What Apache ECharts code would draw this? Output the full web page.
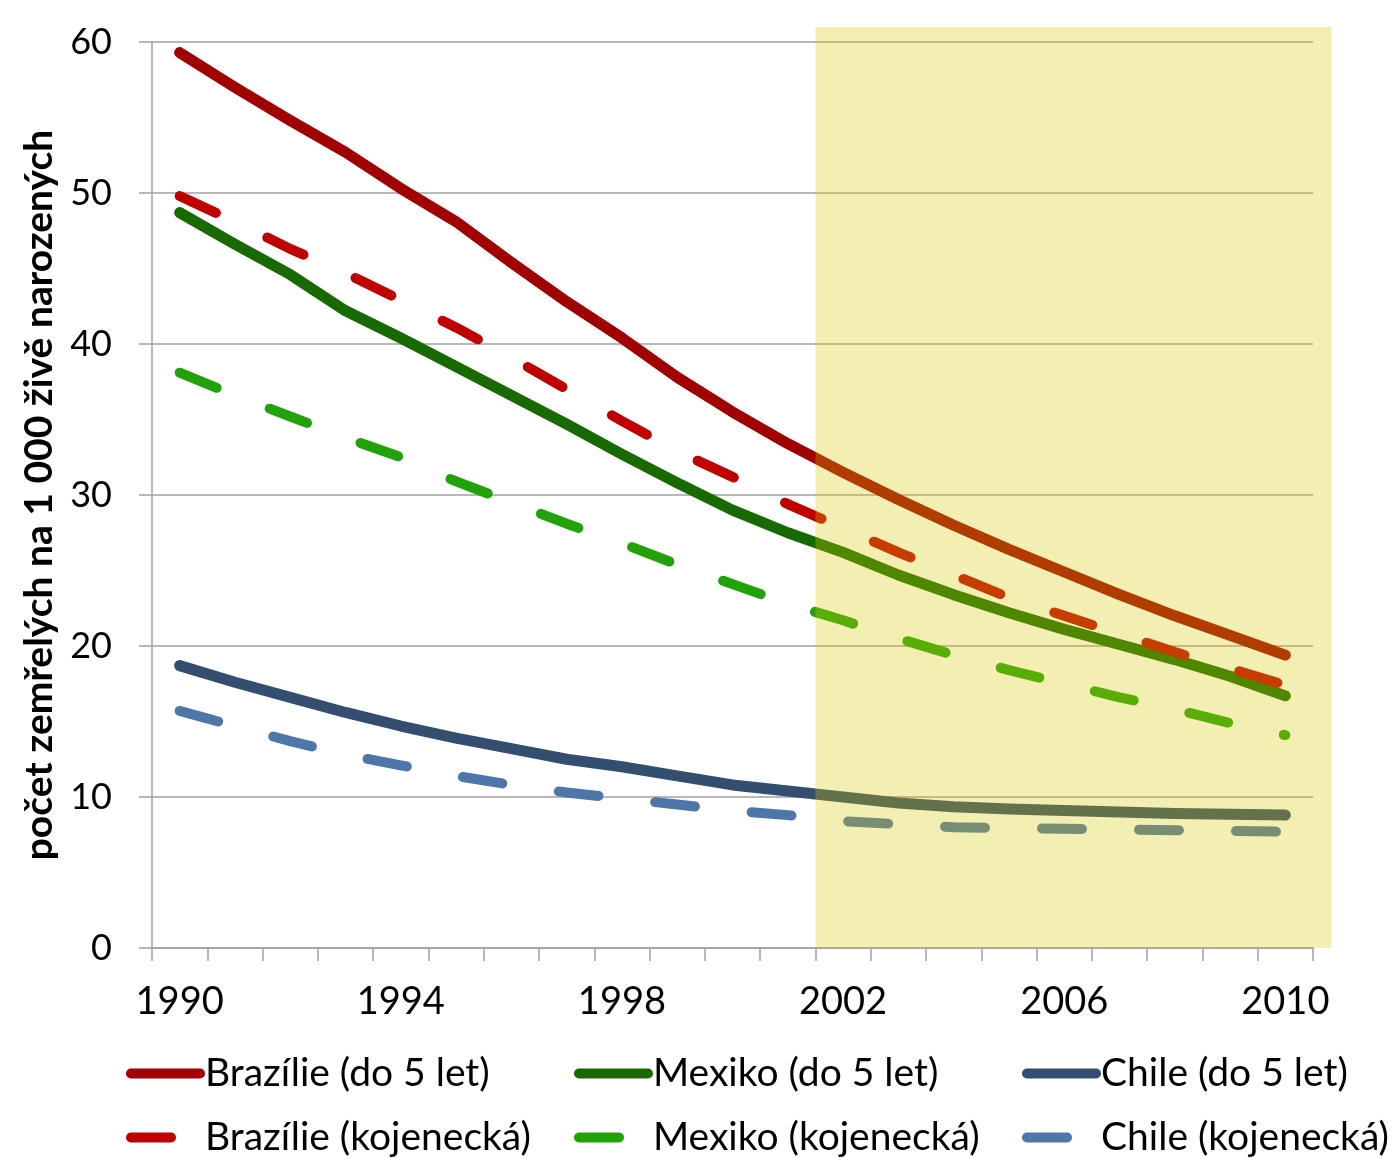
<!DOCTYPE html>
<html>
<head>
<meta charset="utf-8">
<script src="https://cdn.jsdelivr.net/npm/echarts@6/dist/echarts.min.js"></script>
<style>
html,body{margin:0;padding:0;background:#fff;}
#chart{width:1394px;height:1158px;}
</style>
</head>
<body>
<div id="chart"></div>
<script>
const years = ['1990','1991','1992','1993','1994','1995','1996','1997','1998','1999','2000','2001','2002','2003','2004','2005','2006','2007','2008','2009','2010'];
const brazil5   = [59.3, 57.0, 54.8, 52.7, 50.3, 48.1, 45.4, 42.8, 40.4, 37.8, 35.5, 33.4, 31.5, 29.7, 28.0, 26.4, 24.9, 23.4, 22.0, 20.7, 19.4];
const brazilInf = [49.8, 48.1, 46.3, 44.7, 42.9, 41.1, 39.1, 37.0, 34.9, 32.9, 31.2, 29.4, 27.8, 26.2, 24.7, 23.2, 22.0, 20.8, 19.6, 18.5, 17.4];
const mexico5   = [48.7, 46.6, 44.6, 42.2, 40.4, 38.5, 36.6, 34.7, 32.7, 30.8, 29.0, 27.5, 26.2, 24.7, 23.4, 22.2, 21.1, 20.1, 19.1, 18.0, 16.7];
const mexicoInf = [38.1, 36.6, 35.2, 33.8, 32.5, 30.9, 29.5, 28.1, 26.8, 25.4, 24.1, 22.8, 21.7, 20.5, 19.4, 18.4, 17.5, 16.6, 15.8, 14.9, 14.1];
const chile5    = [18.7, 17.6, 16.6, 15.6, 14.7, 13.9, 13.2, 12.5, 12.0, 11.4, 10.8, 10.4, 10.0, 9.6, 9.35, 9.2, 9.1, 9.0, 8.9, 8.85, 8.8];
const chileInf  = [15.7, 14.7, 13.7, 12.8, 12.1, 11.4, 10.8, 10.3, 9.9, 9.5, 9.1, 8.8, 8.4, 8.2, 8.0, 7.95, 7.9, 7.85, 7.8, 7.75, 7.7];
const names = ['Brazílie (do 5 let)','Brazílie (kojenecká)','Mexiko (do 5 let)','Mexiko (kojenecká)','Chile (do 5 let)','Chile (kojenecká)'];
const yTitle = 'počet zemřelých na 1 000 živě narozených';
const shadeFrom = '2002';
const shadeTo = '2010';
const shadeTopValue = 61;

const FONT = 'Lato, "Open Sans", sans-serif';
const dash = [40, 57];

function lineSeries(name, data, color, dashed){
  return {
    type: 'line', name: name, data: data,
    symbol: 'none', smooth: false, z: 3,
    itemStyle: {color: 'rgba(0,0,0,0)'},
    lineStyle: {color: color, width: dashed ? 10 : 11, type: dashed ? dash : 'solid', cap: 'round', join: 'round'}
  };
}

const legendCommon = {
  orient: 'vertical', itemWidth: 69, itemHeight: 40, itemGap: 25,
  textStyle: {fontFamily: FONT, fontSize: 39, color: '#000'},
  itemStyle: {opacity: 0},
  lineStyle: {width: 10, cap: 'round'},
  selectedMode: false, padding: 0, top: 1054
};

const chart = echarts.init(document.getElementById('chart'), null, {renderer: 'canvas'});
const option = {
  animation: false,
  backgroundColor: '#fff',
  grid: {left: 152, right: 81, top: 42, bottom: 210, containLabel: false},
  xAxis: {
    type: 'category', data: years, boundaryGap: true,
    axisLine: {show: true, lineStyle: {color: '#A0A0A0', width: 1.5}},
    axisTick: {show: true, interval: 0, length: 13, lineStyle: {color: '#A0A0A0', width: 1.5}},
    axisLabel: {interval: 3, margin: 35, fontFamily: FONT, fontSize: 38, color: '#000'},
    splitLine: {show: false}
  },
  yAxis: {
    type: 'value', min: 0, max: 60, interval: 10,
    name: yTitle, nameLocation: 'middle', nameGap: 92, nameRotate: 90,
    nameTextStyle: {fontFamily: FONT, fontSize: 39, fontWeight: 'bold', color: '#000'},
    axisLine: {show: true, lineStyle: {color: '#A0A0A0', width: 1.5}},
    axisTick: {show: true, length: 13, lineStyle: {color: '#A0A0A0', width: 1.5}},
    axisLabel: {margin: 40, fontFamily: FONT, fontSize: 36, color: '#000'},
    splitLine: {show: true, lineStyle: {color: '#A0A0A0', width: 1.5}}
  },
  legend: [
    Object.assign({}, legendCommon, {left: 126, data: [names[0], names[1]]}),
    Object.assign({}, legendCommon, {left: 574, data: [names[2], names[3]]}),
    Object.assign({}, legendCommon, {left: 1022, data: [names[4], names[5]]})
  ],
  series: [
    lineSeries(names[0], brazil5, '#A00000', false),
    lineSeries(names[2], mexico5, '#186A00', false),
    lineSeries(names[4], chile5, '#334E6E', false),
    lineSeries(names[1], brazilInf, '#C00000', true),
    lineSeries(names[3], mexicoInf, '#22A20A', true),
    lineSeries(names[5], chileInf, '#4E76A8', true)
  ]
};
chart.setOption(option);

const px = v => chart.convertToPixel({xAxisIndex: 0}, v);
const py = v => chart.convertToPixel({yAxisIndex: 0}, v);
const band = px(years[1]) - px(years[0]);
const x0 = px(shadeFrom) - band / 2;
const x1 = px(shadeTo) + band * 0.83;
const yTop = py(shadeTopValue);
const yBot = py(0);
chart.setOption({
  graphic: [{
    type: 'rect', silent: true, z: 100,
    shape: {x: x0, y: yTop, width: x1 - x0, height: yBot - yTop},
    style: {fill: 'rgba(214,200,0,0.3)'}
  }]
});
</script>
</body>
</html>
